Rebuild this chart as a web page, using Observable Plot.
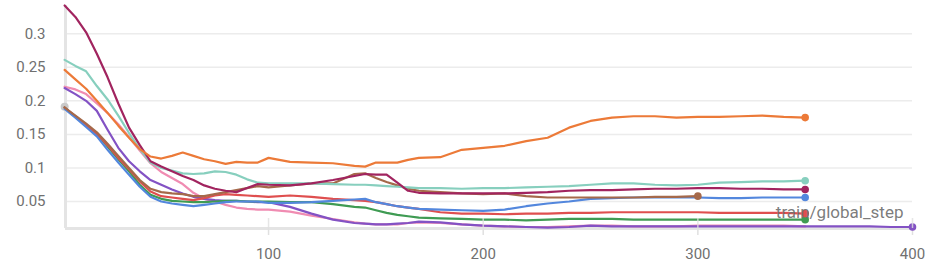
<!DOCTYPE html>
<html>
<head>
<meta charset="utf-8">
<script src="https://cdn.jsdelivr.net/npm/d3@7"></script>
<script src="https://cdn.jsdelivr.net/npm/@observablehq/plot@0.6"></script>
<style>
  html, body { margin: 0; padding: 0; background: #fff; }
  #chart { width: 948px; height: 273px; }
</style>
</head>
<body>
<div id="chart"></div>
<script>
const steps = [5,10,15,20,25,30,35,40,45,50,55,60,65,70,75,80,85,90,95,100,110,120,130,140,145,150,155,160,165,170,180,190,200,210,220,230,240,250,260,270,280,290,300,310,320,330,340,350,360,370,380,390,400];

const seriesNames = ["run-pink","run-purple","run-green","run-red","run-blue","run-brown","run-teal","run-maroon","run-orange"];
const seriesColors = ["#f08cb2","#8352c4","#3f9b53","#df4f4f","#5387dd","#a5694a","#87cfbe","#a1245f","#ec7a38"];

const maroon = [0.342,0.325,0.302,0.27,0.235,0.196,0.16,0.134,0.11,0.102,0.095,0.088,0.082,0.074,0.069,0.066,0.064,0.07,0.076,0.075,0.074,0.077,0.082,0.088,0.091,0.09,0.09,0.078,0.066,0.063,0.062,0.062,0.062,0.062,0.063,0.064,0.066,0.067,0.067,0.068,0.069,0.069,0.07,0.07,0.069,0.069,0.068,0.068];
const teal = [0.261,0.252,0.244,0.222,0.202,0.178,0.152,0.128,0.108,0.1,0.096,0.092,0.091,0.092,0.095,0.094,0.09,0.083,0.078,0.077,0.077,0.077,0.076,0.075,0.075,0.074,0.073,0.072,0.071,0.07,0.07,0.069,0.07,0.07,0.071,0.072,0.073,0.075,0.077,0.077,0.075,0.074,0.075,0.078,0.079,0.08,0.08,0.081];
const orange = [0.246,0.232,0.218,0.2,0.182,0.163,0.145,0.128,0.117,0.114,0.118,0.123,0.118,0.113,0.11,0.106,0.109,0.108,0.108,0.115,0.109,0.108,0.107,0.103,0.102,0.108,0.108,0.108,0.112,0.115,0.116,0.127,0.13,0.133,0.14,0.145,0.16,0.17,0.175,0.177,0.177,0.175,0.176,0.176,0.177,0.178,0.176,0.175];
const pink = [0.221,0.217,0.21,0.196,0.182,0.165,0.146,0.126,0.107,0.094,0.085,0.076,0.063,0.054,0.05,0.045,0.041,0.039,0.038,0.038,0.035,0.029,0.024,0.019,0.017,0.016,0.016,0.016,0.018,0.019,0.018,0.016,0.014,0.013,0.012,0.012,0.013,0.014,0.014,0.013,0.013,0.013,0.014,0.014,0.014,0.014,0.014,0.013];
const purple = [0.219,0.21,0.2,0.185,0.157,0.13,0.11,0.095,0.082,0.075,0.068,0.062,0.057,0.054,0.052,0.051,0.051,0.05,0.049,0.049,0.042,0.032,0.023,0.018,0.017,0.016,0.016,0.017,0.018,0.02,0.019,0.016,0.014,0.013,0.012,0.011,0.012,0.014,0.013,0.013,0.013,0.013,0.013,0.013,0.013,0.013,0.013,0.013,0.013,0.013,0.013,0.012,0.012];
const blue = [0.188,0.175,0.161,0.147,0.127,0.108,0.09,0.072,0.057,0.05,0.047,0.045,0.043,0.045,0.047,0.049,0.05,0.05,0.05,0.048,0.048,0.049,0.051,0.053,0.054,0.049,0.046,0.043,0.041,0.039,0.038,0.037,0.036,0.038,0.043,0.047,0.05,0.054,0.055,0.056,0.056,0.056,0.056,0.055,0.055,0.056,0.056,0.056];
const green = [0.19,0.176,0.163,0.15,0.132,0.113,0.095,0.075,0.06,0.054,0.051,0.05,0.049,0.049,0.05,0.051,0.051,0.05,0.05,0.05,0.049,0.049,0.046,0.042,0.041,0.037,0.033,0.03,0.028,0.026,0.025,0.024,0.023,0.023,0.022,0.023,0.024,0.024,0.024,0.023,0.023,0.023,0.023,0.023,0.023,0.023,0.023,0.023];
const red = [0.19,0.177,0.164,0.151,0.134,0.115,0.098,0.08,0.065,0.058,0.056,0.054,0.052,0.055,0.059,0.061,0.06,0.059,0.058,0.057,0.059,0.057,0.054,0.052,0.051,0.049,0.046,0.043,0.041,0.039,0.034,0.032,0.032,0.031,0.032,0.032,0.033,0.033,0.034,0.034,0.034,0.034,0.034,0.033,0.033,0.033,0.033,0.032];
const brown = [0.19,0.178,0.166,0.153,0.136,0.118,0.1,0.082,0.069,0.064,0.062,0.061,0.058,0.058,0.061,0.064,0.067,0.07,0.073,0.071,0.074,0.077,0.077,0.091,0.092,0.085,0.079,0.074,0.069,0.066,0.064,0.062,0.061,0.062,0.058,0.056,0.056,0.056,0.056,0.056,0.057,0.057,0.058];
const grayRun = [0.191];

const xTicks = [100, 200, 300, 400];
const yTicks = [0.05, 0.1, 0.15, 0.2, 0.25, 0.3];
const xLabel = "train/global_step";

const valuesBySeries = {
  "run-pink": pink, "run-purple": purple, "run-green": green, "run-red": red,
  "run-blue": blue, "run-brown": brown, "run-teal": teal, "run-maroon": maroon, "run-orange": orange
};
const rows = [];
for (const name of seriesNames) {
  valuesBySeries[name].forEach((v, i) => rows.push({series: name, step: steps[i], value: v}));
}
const endRows = seriesNames.filter(n => n !== "run-pink").map(n => {
  const arr = valuesBySeries[n];
  return {series: n, step: steps[arr.length - 1], value: arr[arr.length - 1]};
});
const grayRows = grayRun.map((v, i) => ({step: steps[i], value: v}));

const xDomain = [5.4, 400];
const yDomain = [0.0098, 0.342];

const font = "Roboto, 'Noto Sans', sans-serif";

const chart = Plot.plot({
  width: 948,
  height: 273,
  marginLeft: 65,
  marginRight: 36,
  marginTop: 5,
  marginBottom: 45,
  style: {fontFamily: font, fontSize: "15px", color: "#707070", background: "#fff"},
  x: {domain: xDomain},
  y: {domain: yDomain},
  color: {type: "ordinal", domain: seriesNames, range: seriesColors},
  marks: [
    Plot.ruleY(yTicks, {stroke: "#ececec", strokeWidth: 1.5}),
    Plot.ruleX([xDomain[0]], {stroke: "#e4e4e4", strokeWidth: 3}),
    Plot.ruleY([yDomain[0]], {stroke: "#e4e4e4", strokeWidth: 3}),
    Plot.axisY({ticks: yTicks, tickSize: 0, tickPadding: 20, fontSize: 15, label: null, tickFormat: d => String(d)}),
    Plot.axisX({ticks: xTicks, tickSize: 7, stroke: "#e0e0e0", strokeWidth: 1.5, tickPadding: 13, fontSize: 15, label: null}),
    Plot.dot(grayRows, {x: "step", y: "value", r: 4, fill: "#c9c9c9"}),
    Plot.line(rows, {x: "step", y: "value", z: "series", stroke: "series", strokeWidth: 2.2, curve: "linear"}),
    Plot.dot(endRows, {x: "step", y: "value", fill: "series", r: 3.8}),
    Plot.tickX(xTicks, {x: d => d, insetTop: 213, stroke: "#e0e0e0", strokeWidth: 1.5, strokeOpacity: 0.8}),
    Plot.text([xLabel], {frameAnchor: "bottom-right", dx: -9, dy: -16, lineAnchor: "middle", textAnchor: "end", fontSize: 17, fill: "#707070", fillOpacity: 0.92})
  ]
});
document.getElementById("chart").appendChild(chart);
</script>
</body>
</html>
